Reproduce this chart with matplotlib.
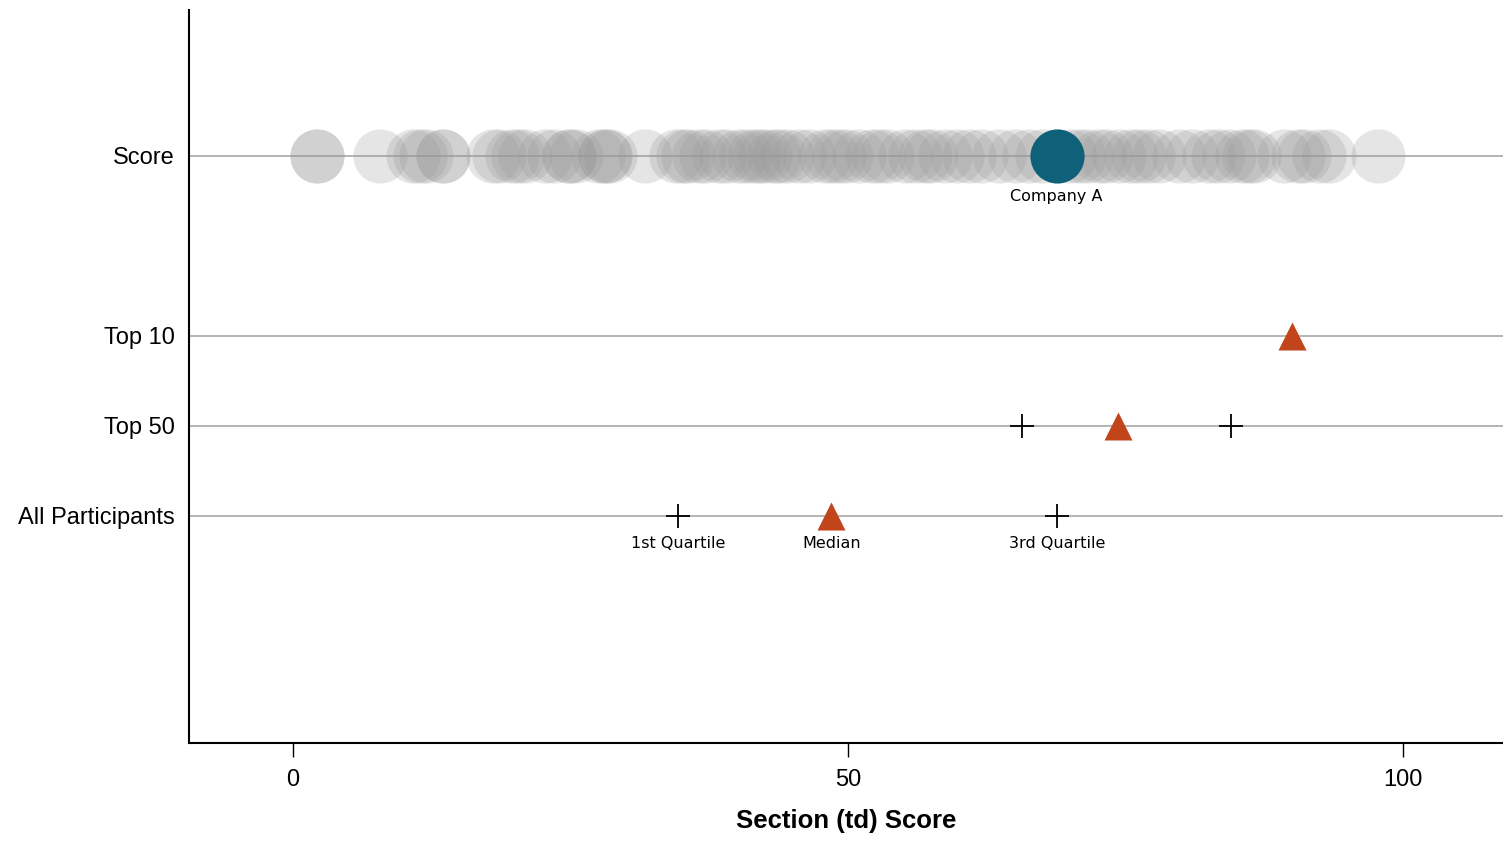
import numpy as np
import matplotlib.pyplot as plt

plt.rcParams['font.family'] = ['Liberation Sans', 'DejaVu Sans']

# Data
categories = ["All Participants", "Top 50", "Top 10", "Score"]
participant_scores = [2.2, 2.2, 7.8, 10.8, 11.4, 12.0, 13.5, 13.5,
                      18.0, 18.6, 19.7, 20.3, 20.9, 22.7, 23.5, 24.9, 24.9, 25.5,
                      27.5, 28.1, 28.1, 28.6, 31.7,
                      34.5, 35.1, 35.6, 36.6, 37.2, 38.4, 39.0, 40.2, 40.8, 41.5,
                      42.0, 42.5, 43.3, 43.8, 44.5, 45.6, 46.5, 47.9, 48.6, 49.2,
                      49.8, 51.0, 52.2, 52.8, 53.5, 55.1, 56.0, 56.9, 57.5, 58.7,
                      59.8, 60.9, 62.0, 63.6, 65.0, 66.3, 67.5, 70.0, 70.8, 71.5,
                      72.6, 73.2, 74.4, 75.5, 76.2, 77.0, 78.0, 79.8, 81.0, 82.5,
                      83.3, 84.3, 85.5, 86.1, 86.6, 89.3, 90.5, 91.1, 92.4, 93.3,
                      97.7]
company_name = "Company A"
company_score = 68.8
group_names = ["All Participants", "Top 50", "Top 10"]
q1 = [34.7, 65.7, None]
median = [48.5, 74.3, 90.0]
q3 = [68.8, 84.5, None]

teal = "#0f6079"
orange = "#c2441b"
small_font = ['DejaVu Sans']

fig = plt.figure(figsize=(15.03, 8.41), dpi=100)
ax = fig.add_axes([0.1257, 0.1165, 0.8743, 0.872])

ypos = {c: i for i, c in enumerate(categories)}
ypos["Score"] = 4

for c in categories:
    ax.axhline(ypos[c], color="#a0a0a0", lw=1.1, zorder=0)

# participant bubbles
ax.plot(participant_scores, [ypos["Score"]] * len(participant_scores), "o",
        ms=39, color="#999999", alpha=0.25, mec="none", zorder=2)
ax.plot([company_score], [ypos["Score"]], "o", ms=39, color=teal, mec="none", zorder=3)
ax.annotate(company_name, (company_score, ypos["Score"]), xytext=(0, -41),
            textcoords="offset pixels", ha="center", va="center", fontsize=11.5,
            family=small_font)

for g, a, m, b in zip(group_names, q1, median, q3):
    y = ypos[g]
    for v in (a, b):
        if v is not None:
            ax.plot(v, y, "+", ms=17, mew=1.3, color="black", zorder=3)
    ax.plot(m, y, "^", ms=20, color=orange, mec="none", zorder=3)

# labels under All Participants row
y0 = ypos["All Participants"]
for v, lab in [(q1[0], "1st Quartile"), (median[0], "Median"), (q3[0], "3rd Quartile")]:
    ax.annotate(lab, (v, y0), xytext=(0, -28), textcoords="offset pixels",
                ha="center", va="center", fontsize=11.5, family=small_font)

ax.set_xlim(-9.37, 109.0)
ax.set_ylim(-2.52, 5.62)
ax.set_xticks([0, 50, 100])
ax.set_yticks([ypos[c] for c in categories])
ax.set_yticklabels(categories)
ax.tick_params(axis="x", labelsize=17, length=10, width=1, color="black", pad=9)
ax.tick_params(axis="y", labelsize=17, length=0, pad=10)
ax.set_xlabel("Section (td) Score", fontsize=18.5, fontweight="bold", labelpad=13)

for s in ["top", "right"]:
    ax.spines[s].set_visible(False)
ax.spines["left"].set_linewidth(1.5)
ax.spines["bottom"].set_linewidth(1.5)

fig.savefig("out.png", dpi=100)
